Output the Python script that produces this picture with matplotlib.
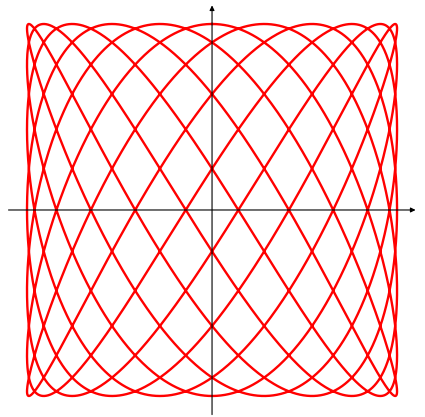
import numpy as np
import matplotlib
matplotlib.use("Agg")
import matplotlib.pyplot as plt

# Lissajous curve parameters
freq_x = 7      # x = sin(7 t)
freq_y = 11     # y = cos(11 t)
amplitude = 1.0
axis_extent = [-1.1, 1.1]

t = np.linspace(0, 2 * np.pi, 6000)
x = amplitude * np.sin(freq_x * t)
y = amplitude * np.cos(freq_y * t)

fig = plt.figure(figsize=(4.25, 4.17), dpi=100)
ax = fig.add_axes([0, 0, 1, 1])
ax.set_xlim(-1.146, 1.151)
ax.set_ylim(-1.113, 1.129)
ax.axis("off")

ax.plot(x, y, color="#ff0000", lw=1.7, zorder=2, solid_joinstyle="round")

arrow = dict(arrowstyle="-|>", lw=0.8, color="black", mutation_scale=7,
             shrinkA=0, shrinkB=0)
ax.annotate("", xy=(axis_extent[1], 0), xytext=(axis_extent[0], 0),
            arrowprops=arrow, zorder=3)
ax.annotate("", xy=(0, axis_extent[1]), xytext=(0, axis_extent[0]),
            arrowprops=arrow, zorder=3)

fig.savefig("out.png", dpi=100)
